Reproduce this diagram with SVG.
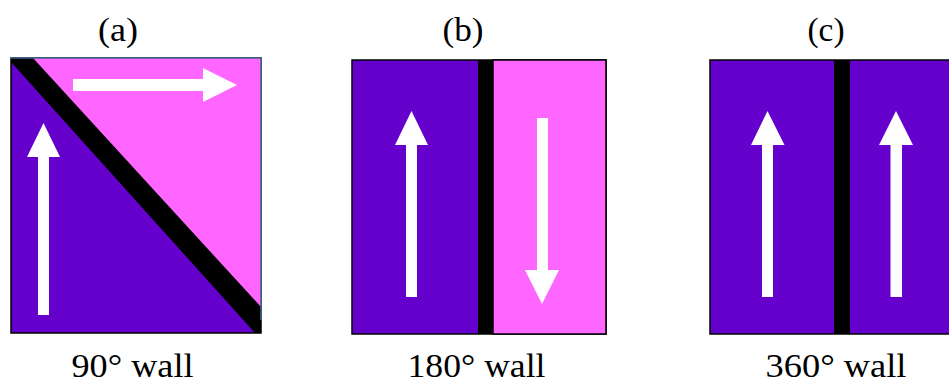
<svg xmlns="http://www.w3.org/2000/svg" width="949" height="383" viewBox="0 0 949 383">
<style>
.pu{fill:#6600CC}
.pk{fill:#FF66FF}
.bk{fill:#000}
.ar{fill:#fff}
.lbl{font-family:'Liberation Serif','DejaVu Serif',serif;font-size:34px;fill:#000;text-anchor:middle}
</style>
<rect width="949" height="383" fill="#fff"/>
<g id="panel-a">
  <rect x="11" y="58" width="250" height="275" class="pu" stroke="#000" stroke-width="1.5"/>
  <polygon points="11,58 261,58 261,333" class="pk"/>
  <polygon points="11,58 33,58 261,307 261,333 255,333 11,62" class="bk"/>
  <path d="M11,58 H261 V320" fill="none" stroke="#41648f" stroke-width="1.5"/>
  <polygon class="ar" points="38,315 49,315 49,157 60,157 43.5,123 27,157 38,157"/>
  <polygon class="ar" points="73,79 203,79 203,68 237,85 203,102 203,91 73,91"/>
  <text class="lbl" x="118" y="41" textLength="40" lengthAdjust="spacingAndGlyphs">(a)</text>
  <text class="lbl" x="132.5" y="377" textLength="122" lengthAdjust="spacingAndGlyphs">90° wall</text>
</g>
<g id="panel-b">
  <rect x="352" y="60" width="254" height="274" class="pu" stroke="#000" stroke-width="1.5"/>
  <rect x="493" y="60" width="113" height="274" class="pk" stroke="#000" stroke-width="1.5"/>
  <rect x="478" y="60" width="15" height="274" class="bk"/>
  <polygon class="ar" points="406,297 417,297 417,145 428,145 411.5,111 395,145 406,145"/>
  <polygon class="ar" points="537,118 548,118 548,270 559,270 542,304 525,270 537,270"/>
  <text class="lbl" x="463" y="41" textLength="41" lengthAdjust="spacingAndGlyphs">(b)</text>
  <text class="lbl" x="476.5" y="377" textLength="138" lengthAdjust="spacingAndGlyphs">180° wall</text>
</g>
<g id="panel-c">
  <rect x="710" y="60" width="250" height="274" class="pu" stroke="#000" stroke-width="1.5"/>
  <rect x="834" y="60" width="16" height="274" class="bk"/>
  <polygon class="ar" points="762,297 773,297 773,145 784.5,145 767.5,111 751,145 762,145"/>
  <polygon class="ar" points="890.5,297 902,297 902,145 913,145 896,111 879,145 890.5,145"/>
  <text class="lbl" x="826" y="41" textLength="37" lengthAdjust="spacingAndGlyphs">(c)</text>
  <text class="lbl" x="836" y="377" textLength="141" lengthAdjust="spacingAndGlyphs">360° wall</text>
</g>
<g id="connectors"></g>
</svg>
